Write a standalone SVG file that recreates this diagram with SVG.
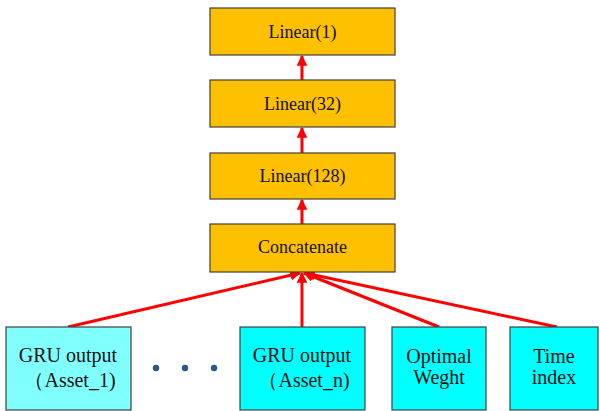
<svg xmlns="http://www.w3.org/2000/svg" width="600" height="411" viewBox="0 0 600 411">
<defs>
<style>
.layer{fill:#FFC000;stroke:#404040;stroke-width:1.2}
.inp{fill:#00FFFF;stroke:#404040;stroke-width:1.2}
.inp1{fill:#80FFFF;stroke:#404040;stroke-width:1.2}
.t1{font-size:18px;fill:#111;text-anchor:middle}
.t2{font-size:20px;fill:#111;text-anchor:middle}
.conn{stroke:#FF0000;stroke-width:3;fill:none;marker-end:url(#ah)}
.dot{fill:#2F5597}
</style>
<marker id="ah" viewBox="0 0 10 10" refX="9" refY="5" markerWidth="3.6" markerHeight="3.6" orient="auto" markerUnits="strokeWidth">
<path d="M0,0 L10,5 L0,10 Z" fill="#FF0000"/>
</marker>
</defs>
<rect width="600" height="411" fill="#fff"/>
<g id="connectors">
<line class="conn" x1="302" y1="80" x2="302" y2="56"/>
<line class="conn" x1="302" y1="153" x2="302" y2="128"/>
<line class="conn" x1="302" y1="224" x2="302" y2="200"/>
<line class="conn" x1="68" y1="327" x2="300" y2="273"/>
<line class="conn" x1="302" y1="327" x2="302" y2="273"/>
<line class="conn" x1="439" y1="327" x2="304" y2="273"/>
<line class="conn" x1="557" y1="327" x2="305" y2="273"/>
</g>
<g font-family="'Liberation Serif', 'Times New Roman', serif">
<g id="linear1">
<rect class="layer" x="210" y="8" width="185" height="47"/>
<text class="t1" x="302.5" y="38">Linear(1)</text>
</g>
<g id="linear32">
<rect class="layer" x="210" y="80" width="185" height="47"/>
<text class="t1" x="302.5" y="110">Linear(32)</text>
</g>
<g id="linear128">
<rect class="layer" x="210" y="153" width="185" height="46"/>
<text class="t1" x="302.5" y="182">Linear(128)</text>
</g>
<g id="concatenate">
<rect class="layer" x="210" y="224" width="185" height="48"/>
<text class="t1" x="302.5" y="253">Concatenate</text>
</g>
<g id="gru1">
<rect class="inp1" x="6" y="327" width="125" height="83"/>
<text class="t2" x="68" y="362">GRU output</text>
<text class="t2" x="70" y="387">（Asset_1)</text>
</g>
<g id="dots">
<circle class="dot" cx="156" cy="368" r="3.2"/>
<circle class="dot" cx="185" cy="368" r="3.2"/>
<circle class="dot" cx="214" cy="368" r="3.2"/>
</g>
<g id="grun">
<rect class="inp" x="240" y="327" width="125" height="83"/>
<text class="t2" x="302" y="362">GRU output</text>
<text class="t2" x="304" y="387">（Asset_n)</text>
</g>
<g id="optimal">
<rect class="inp" x="392" y="327" width="94" height="83"/>
<text class="t2" x="439" y="363">Optimal</text>
<text class="t2" x="439" y="384">Weght</text>
</g>
<g id="time">
<rect class="inp" x="510" y="327" width="88" height="83"/>
<text class="t2" x="554" y="363">Time</text>
<text class="t2" x="554" y="384">index</text>
</g>
</g>
</svg>
